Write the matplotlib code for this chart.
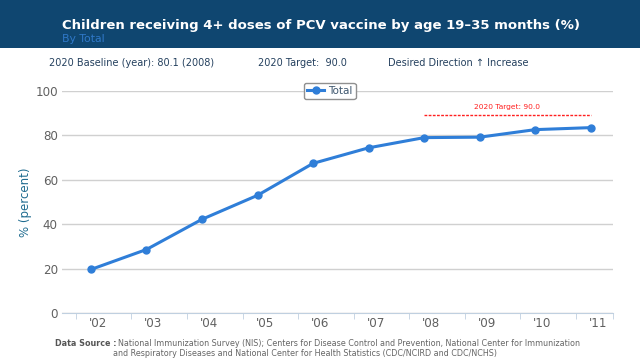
import matplotlib
matplotlib.use("Agg")
import matplotlib.pyplot as plt
import matplotlib.transforms as mtransforms
from matplotlib.patches import Rectangle

years = ["'02", "'03", "'04", "'05", "'06", "'07", "'08", "'09", "'10", "'11"]
total = [19.6, 28.6, 42.2, 53.0, 67.4, 74.4, 79.0, 79.2, 82.6, 83.5]
target_value = 89.0
target_span = (6, 9)
yticks = [0, 20, 40, 60, 80, 100]

W, H = 640, 362
plt.rcParams["font.family"] = "DejaVu Sans"
fig = plt.figure(figsize=(W / 100, H / 100), dpi=100)
fig.patch.set_facecolor("white")

def fx(px): return px / W
def fy(py): return 1 - py / H

# header band
fig.patches.append(Rectangle((0, fy(48)), 1, 48 / H, transform=fig.transFigure,
                             facecolor="#0f4670", edgecolor="none", zorder=0))
fig.text(fx(62), fy(25), "Children receiving 4+ doses of PCV vaccine by age 19\u201335 months (%)",
         color="white", fontsize=9.5, fontweight="bold", va="center", ha="left")
fig.text(fx(62), fy(38.5), "By Total", color="#2f78c8", fontsize=7.8, va="center", ha="left")

hdr = "#24405e"
fig.text(fx(49), fy(63), "2020 Baseline (year): 80.1 (2008)", color=hdr, fontsize=7.0, va="center")
fig.text(fx(258), fy(63), "2020 Target:  90.0", color=hdr, fontsize=7.0, va="center")
fig.text(fx(388), fy(63), "Desired Direction \u2191 Increase", color=hdr, fontsize=7.0, va="center")

ax = fig.add_axes([fx(62), fy(313), (613 - 62) / W, (313 - 91) / H])
x = list(range(len(years)))
ax.plot(x, total, color="#2f7ed8", lw=2.2, marker="o", ms=5, label="Total", zorder=3)
ax.plot(list(target_span), [target_value] * 2, color="#ff2020", lw=1, ls=(0, (2, 1)), zorder=2)
ax.text(sum(target_span) / 2, target_value + 3.7, "2020 Target: 90.0", color="#ff2020",
        fontsize=5.4, ha="center", va="center")

ax.set_xlim(-0.52, 9.4)
ax.set_ylim(0, 100)
ax.set_yticks(yticks)
ax.set_xticks(x)
ax.set_xticklabels(years)
ax.set_xticks([i - 0.27 for i in x] + [9.4], minor=True)
ax.grid(axis="y", color="#d0d0d0", lw=1)
ax.set_axisbelow(True)
for s in ["top", "right", "left"]:
    ax.spines[s].set_visible(False)
ax.spines["bottom"].set_color("#c0d0e0")
ax.tick_params(axis="y", length=0, labelsize=8.6, labelcolor="#606060", pad=3)
ax.tick_params(axis="x", which="major", length=0, labelsize=8.6, labelcolor="#606060", pad=3)
ax.tick_params(axis="x", which="minor", length=4, color="#c0d0e0")
shift = mtransforms.ScaledTranslation(7 / 100, 0, fig.dpi_scale_trans)
for lab in ax.get_xticklabels():
    lab.set_transform(lab.get_transform() + shift)

fig.text(fx(25), fy(202), "% (percent)", color="#1e6b8f", fontsize=8.5, rotation=90,
         ha="center", va="center")

leg = ax.legend(loc="center", bbox_to_anchor=(0.486, 1.0), fontsize=7.5, frameon=True,
                handlelength=1.6, borderpad=0.3, handletextpad=0.4, fancybox=True, framealpha=1)
leg.get_frame().set_edgecolor("#909090")
for t in leg.get_texts():
    t.set_color("#3e576f")

fig.text(fx(55), fy(343), "Data Source :", color="#555555", fontsize=5.75, fontweight="bold",
         va="center", ha="left")
fig.text(fx(118), fy(343),
         "National Immunization Survey (NIS); Centers for Disease Control and Prevention, National Center for Immunization",
         color="#666666", fontsize=5.75, va="center", ha="left")
fig.text(fx(113), fy(354),
         "and Respiratory Diseases and National Center for Health Statistics (CDC/NCIRD and CDC/NCHS)",
         color="#666666", fontsize=5.75, va="center", ha="left")

fig.savefig("out.png", dpi=100)
